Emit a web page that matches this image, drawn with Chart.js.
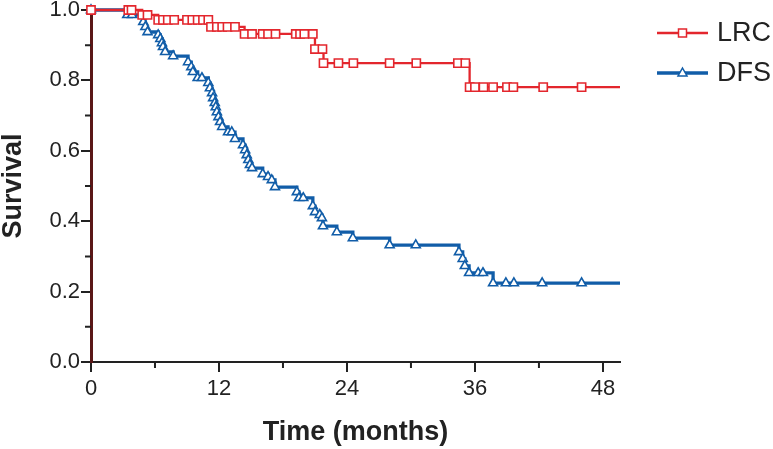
<!DOCTYPE html>
<html>
<head>
<meta charset="utf-8">
<script src="https://cdn.jsdelivr.net/npm/chart.js@4.4.1/dist/chart.umd.min.js"></script>
<style>
  html, body { margin: 0; padding: 0; background: #fff; }
  canvas { display: block; }
</style>
</head>
<body>
<canvas id="km" width="773" height="449"></canvas>
<script>
// Kaplan-Meier curves: time in months, survival proportion
const lrcTime = [0, 3.5, 3.8, 4.8, 5.3, 6.3, 6.75, 7.2, 7.8, 9.0, 9.5, 10.0, 10.5, 11.0,
  11.25, 11.8, 12.3, 12.8, 13.5, 14.4, 15.1, 16.1, 16.6, 17.3, 19.2, 19.6, 20.0, 20.8,
  21.0, 21.7, 21.8, 23.2, 24.6, 28.0, 30.5, 34.4, 35.1, 35.5, 36.0, 36.8, 37.7, 39.0,
  39.6, 42.4, 46.0, 49.6];
const lrcSurv = [1, 1, 1, 0.986, 0.986, 0.972, 0.972, 0.972, 0.972, 0.972, 0.972, 0.972, 0.972, 0.972,
  0.952, 0.952, 0.952, 0.952, 0.952, 0.932, 0.932, 0.932, 0.932, 0.932, 0.932, 0.932, 0.932, 0.932,
  0.889, 0.889, 0.849, 0.849, 0.849, 0.849, 0.849, 0.849, 0.849, 0.781, 0.781, 0.781, 0.781, 0.781,
  0.781, 0.781, 0.781, 0.781];

const dfsTime = [0, 3.4, 3.85, 4.9, 5.1, 5.3, 6.3, 6.5, 6.65, 6.75, 6.95, 7.7, 9.1, 9.4, 9.55,
  10.0, 10.4, 11.0, 11.15, 11.35, 11.45, 11.6, 11.7, 11.8, 11.95, 12.1, 12.3, 12.85, 13.2, 13.5,
  14.25, 14.45, 14.6, 14.75, 14.9, 15.1, 16.1, 16.6, 16.95, 17.25, 19.3, 19.5, 19.9, 20.8, 21.0,
  21.45, 21.65, 21.75, 23.05, 24.55, 28.0, 30.45, 34.5, 34.85, 35.05, 35.45, 36.3, 36.75, 37.7,
  38.9, 39.65, 42.3, 46.0, 49.6];
const dfsSurv = [1, 0.986, 0.986, 0.966, 0.952, 0.9375, 0.929, 0.918, 0.906, 0.895, 0.881, 0.869, 0.852, 0.838, 0.824,
  0.807, 0.807, 0.793, 0.778, 0.764, 0.750, 0.736, 0.724, 0.710, 0.696, 0.682, 0.668, 0.653, 0.653, 0.634,
  0.616, 0.602, 0.588, 0.574, 0.560, 0.551, 0.534, 0.526, 0.517, 0.497, 0.483, 0.466, 0.466, 0.443, 0.426,
  0.418, 0.409, 0.386, 0.369, 0.352, 0.332, 0.332, 0.3125, 0.293, 0.273, 0.253, 0.253, 0.253, 0.224,
  0.224, 0.224, 0.224, 0.224, 0.224];

const seriesNames = ['LRC', 'DFS'];
const xTicks = [0, 12, 24, 36, 48];
const xMinorTicks = [6, 18, 30, 42];
const yTicks = [0, 0.2, 0.4, 0.6, 0.8, 1.0];
const yMinorTicks = [0.1, 0.3, 0.5, 0.7, 0.9];

const RED = '#e3262d';
const BLUE = '#115da8';
const INK = '#222';
const FONT = "'Liberation Sans', Arial, Helvetica, sans-serif";

const toPoints = (t, s) => t.map((v, i) => ({ x: v, y: s[i] }));
// no symbol on the final point (end of follow-up)
const markerSize = (r) => (ctx) => ctx.dataIndex === ctx.dataset.data.length - 1 ? 0 : r;

// shorter minor ticks between the labelled ones
const minorTicks = {
  id: 'minorTicks',
  afterDraw(chart) {
    const { ctx, scales: { x, y } } = chart;
    ctx.save();
    ctx.strokeStyle = INK;
    ctx.lineWidth = 2;
    ctx.beginPath();
    xMinorTicks.forEach(v => {
      const px = x.getPixelForValue(v);
      ctx.moveTo(px, x.top);
      ctx.lineTo(px, x.top + 6);
    });
    yMinorTicks.forEach(v => {
      const py = y.getPixelForValue(v);
      ctx.moveTo(y.right, py);
      ctx.lineTo(y.right - 6, py);
    });
    ctx.stroke();
    ctx.restore();
  }
};

// legend: line with symbol, then the name
const kmLegend = {
  id: 'kmLegend',
  afterDraw(chart) {
    const { ctx, chartArea } = chart;
    const x0 = chartArea.right + 37, x1 = chartArea.right + 88;
    chart.data.datasets.forEach((ds, i) => {
      const y = chartArea.top + 23 + i * 40;
      const mx = (x0 + x1) / 2;
      ctx.save();
      ctx.strokeStyle = ds.borderColor;
      ctx.lineWidth = ds.borderWidth;
      ctx.beginPath();
      ctx.moveTo(x0, y);
      ctx.lineTo(x1, y);
      ctx.stroke();
      ctx.fillStyle = '#fff';
      ctx.lineWidth = 1.5;
      ctx.beginPath();
      if (ds.pointStyle === 'rect') {
        ctx.rect(mx - 4, y - 4, 8, 8);
      } else {
        ctx.moveTo(mx, y - 5);
        ctx.lineTo(mx + 4.5, y + 3);
        ctx.lineTo(mx - 4.5, y + 3);
        ctx.closePath();
      }
      ctx.fill();
      ctx.stroke();
      ctx.fillStyle = INK;
      ctx.font = '27px ' + FONT;
      ctx.textBaseline = 'middle';
      ctx.fillText(ds.label, x1 + 9, y + 1);
      ctx.restore();
    });
  }
};

new Chart(document.getElementById('km'), {
  type: 'line',
  data: {
    datasets: [
      {
        label: seriesNames[0],
        data: toPoints(lrcTime, lrcSurv),
        stepped: 'before',
        borderColor: RED,
        borderWidth: 2.3,
        pointStyle: 'rect',
        pointRadius: markerSize(5.8),
        pointBorderWidth: 1.6,
        pointBorderColor: RED,
        pointBackgroundColor: '#fff',
        clip: false
      },
      {
        label: seriesNames[1],
        data: toPoints(dfsTime, dfsSurv),
        stepped: 'before',
        borderColor: BLUE,
        borderWidth: 3.3,
        pointStyle: 'triangle',
        pointRadius: markerSize(5.2),
        pointBorderWidth: 1.6,
        pointBorderColor: BLUE,
        pointBackgroundColor: '#fff',
        clip: false
      }
    ]
  },
  options: {
    responsive: false,
    animation: false,
    devicePixelRatio: 1,
    layout: { padding: { top: 10, right: 153, left: 0, bottom: 0 } },
    plugins: {
      legend: { display: false },
      tooltip: { enabled: false }
    },
    scales: {
      x: {
        type: 'linear',
        min: 0,
        max: 49.6,
        afterBuildTicks: (scale) => { scale.ticks = xTicks.map(v => ({ value: v })); },
        afterFit: (scale) => { scale.height = 87; scale.paddingLeft = 0; scale.paddingRight = 0; },
        grid: { drawOnChartArea: false, tickLength: 10, color: INK, lineWidth: 2 },
        border: { color: INK, width: 2 },
        ticks: { font: { size: 22, family: FONT }, color: INK, padding: 4, maxRotation: 0 },
        title: {
          display: true,
          text: 'Time (months)',
          font: { size: 27, weight: 'bold', family: FONT },
          color: INK,
          padding: { top: 0, bottom: 0 }
        }
      },
      y: {
        min: 0,
        max: 1,
        afterBuildTicks: (scale) => { scale.ticks = yTicks.map(v => ({ value: v })); },
        afterFit: (scale) => { scale.width = 91; scale.paddingTop = 0; scale.paddingBottom = 0; },
        grid: { drawOnChartArea: false, tickLength: 10, color: INK, lineWidth: 2 },
        border: { color: '#5a1717', width: 3 },
        ticks: {
          font: { size: 22, family: FONT },
          color: INK,
          padding: 1,
          callback: (v) => v.toFixed(1)
        },
        title: {
          display: true,
          text: 'Survival',
          font: { size: 27, weight: 'bold', family: FONT, lineHeight: 1 },
          color: INK,
          padding: { top: 0, bottom: 0 }
        }
      }
    }
  },
  plugins: [minorTicks, kmLegend]
});
</script>
</body>
</html>
